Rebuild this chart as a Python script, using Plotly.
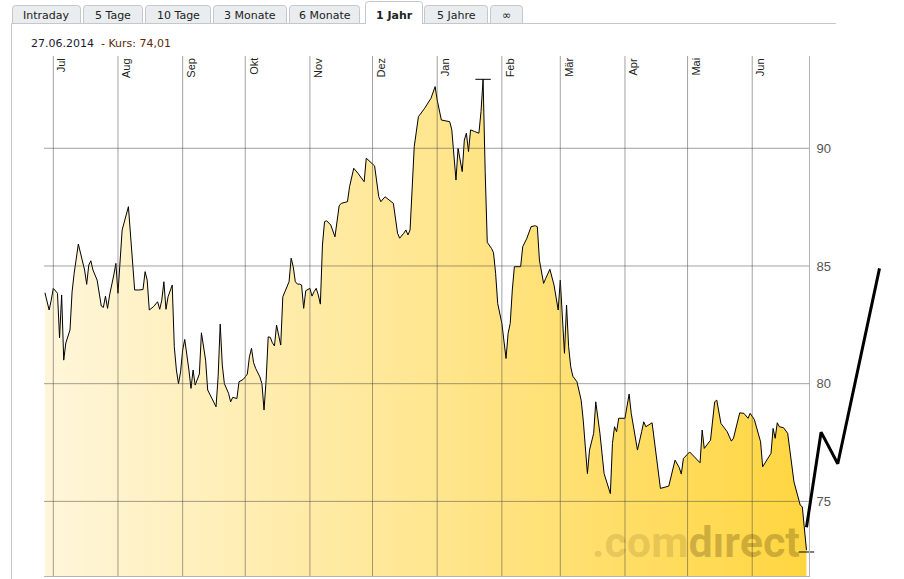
import plotly.graph_objects as go
import pandas as pd

W, H = 904, 579


def fx(p):
    return p / W


def fy(p):
    return 1 - p / H


# ---------------- data ----------------
dates = [
    "2013-06-27", "2013-06-29", "2013-06-30", "2013-07-01", "2013-07-03", "2013-07-04", "2013-07-05",
    "2013-07-06", "2013-07-07", "2013-07-09", "2013-07-10", "2013-07-11", "2013-07-13", "2013-07-15",
    "2013-07-16", "2013-07-17", "2013-07-18", "2013-07-19", "2013-07-20", "2013-07-22", "2013-07-24",
    "2013-07-25", "2013-07-26", "2013-07-27", "2013-07-28", "2013-07-30", "2013-07-31", "2013-08-01",
    "2013-08-02", "2013-08-03", "2013-08-06", "2013-08-07", "2013-08-08", "2013-08-09", "2013-08-11",
    "2013-08-13", "2013-08-14", "2013-08-15", "2013-08-16", "2013-08-18", "2013-08-20", "2013-08-21",
    "2013-08-22", "2013-08-23", "2013-08-24", "2013-08-25", "2013-08-27", "2013-08-28", "2013-08-29",
    "2013-08-30", "2013-08-31", "2013-09-01", "2013-09-02", "2013-09-03", "2013-09-04", "2013-09-05",
    "2013-09-06", "2013-09-07", "2013-09-08", "2013-09-09", "2013-09-10", "2013-09-12", "2013-09-13",
    "2013-09-17", "2013-09-18", "2013-09-19", "2013-09-20", "2013-09-21", "2013-09-23", "2013-09-24",
    "2013-09-25", "2013-09-27", "2013-09-28", "2013-09-30", "2013-10-01", "2013-10-02", "2013-10-03",
    "2013-10-04", "2013-10-05", "2013-10-06", "2013-10-08", "2013-10-09", "2013-10-10", "2013-10-11",
    "2013-10-12", "2013-10-13", "2013-10-14", "2013-10-15", "2013-10-16", "2013-10-17", "2013-10-18",
    "2013-10-19", "2013-10-20", "2013-10-21", "2013-10-22", "2013-10-23", "2013-10-24", "2013-10-25",
    "2013-10-26", "2013-10-27", "2013-10-28", "2013-10-29", "2013-10-30", "2013-11-01", "2013-11-02",
    "2013-11-03", "2013-11-04", "2013-11-05", "2013-11-06", "2013-11-07", "2013-11-08", "2013-11-09",
    "2013-11-11", "2013-11-13", "2013-11-15", "2013-11-16", "2013-11-19", "2013-11-20", "2013-11-22",
    "2013-11-24", "2013-11-27", "2013-11-28", "2013-11-30", "2013-12-02", "2013-12-04", "2013-12-05",
    "2013-12-07", "2013-12-09", "2013-12-11", "2013-12-13", "2013-12-14", "2013-12-16", "2013-12-17",
    "2013-12-18", "2013-12-19", "2013-12-21", "2013-12-23", "2013-12-26", "2013-12-29", "2013-12-31",
    "2014-01-01", "2014-01-03", "2014-01-05", "2014-01-07", "2014-01-08", "2014-01-09", "2014-01-10",
    "2014-01-11", "2014-01-12", "2014-01-13", "2014-01-14", "2014-01-15", "2014-01-16", "2014-01-17",
    "2014-01-19", "2014-01-21", "2014-01-22", "2014-01-23", "2014-01-24", "2014-01-25", "2014-01-27",
    "2014-01-28", "2014-01-29", "2014-01-30", "2014-02-01", "2014-02-02", "2014-02-03", "2014-02-04",
    "2014-02-05", "2014-02-06", "2014-02-07", "2014-02-10", "2014-02-11", "2014-02-13", "2014-02-15",
    "2014-02-17", "2014-02-18", "2014-02-19", "2014-02-21", "2014-02-22", "2014-02-24", "2014-02-26",
    "2014-02-28", "2014-03-01", "2014-03-02", "2014-03-03", "2014-03-04", "2014-03-05", "2014-03-06",
    "2014-03-07", "2014-03-09", "2014-03-10", "2014-03-11", "2014-03-12", "2014-03-14", "2014-03-15",
    "2014-03-17", "2014-03-18", "2014-03-20", "2014-03-22", "2014-03-25", "2014-03-26", "2014-03-27",
    "2014-03-28", "2014-03-29", "2014-04-01", "2014-04-03", "2014-04-04", "2014-04-07", "2014-04-09",
    "2014-04-10", "2014-04-11", "2014-04-14", "2014-04-18", "2014-04-22", "2014-04-25", "2014-04-27",
    "2014-04-28", "2014-04-29", "2014-05-02", "2014-05-05", "2014-05-07", "2014-05-08", "2014-05-09",
    "2014-05-12", "2014-05-14", "2014-05-15", "2014-05-17", "2014-05-20", "2014-05-22", "2014-05-23",
    "2014-05-26", "2014-05-28", "2014-05-30", "2014-05-31", "2014-06-02", "2014-06-05", "2014-06-06",
    "2014-06-10", "2014-06-11", "2014-06-12", "2014-06-13", "2014-06-14", "2014-06-16", "2014-06-18",
    "2014-06-21", "2014-06-24", "2014-06-25", "2014-06-27",
]

prices = [
    83.86, 83.13, 83.55, 84.05, 83.84, 81.94, 83.77,
    81.00, 81.73, 82.28, 83.90, 84.69, 85.93, 85.25,
    84.83, 84.22, 85.04, 85.22, 84.83, 84.40, 83.30,
    83.24, 83.72, 83.20, 83.77, 84.62, 85.11, 83.84,
    85.04, 86.53, 87.52, 86.30, 85.10, 83.98, 83.98,
    84.00, 84.76, 84.40, 83.13, 83.27, 83.48, 83.16,
    83.55, 84.33, 83.16, 83.69, 84.19, 81.57, 80.58,
    80.00, 80.50, 81.43, 81.88, 81.29, 80.58, 79.80,
    80.58, 79.94, 80.15, 80.41, 82.16, 81.00, 79.73,
    79.02, 80.29, 82.53, 80.79, 80.00, 79.59, 79.23,
    79.42, 79.37, 80.08, 80.18, 80.29, 80.41, 81.14,
    81.50, 80.89, 80.65, 80.29, 80.00, 78.88, 80.15,
    81.99, 81.97, 81.74, 81.60, 82.49, 81.99, 81.64,
    83.69, 83.90, 84.19, 84.33, 85.33, 84.97, 84.33,
    84.23, 84.23, 84.19, 83.20, 83.95, 84.05, 83.72,
    83.91, 84.05, 83.77, 83.38, 85.89, 86.88, 86.92,
    86.74, 86.24, 87.55, 87.66, 87.73, 88.37, 89.15,
    88.94, 88.58, 89.58, 89.43, 89.25, 87.94, 87.73,
    87.94, 87.80, 87.66, 86.39, 86.18, 86.39, 86.53,
    86.32, 86.53, 90.07, 91.34, 91.70, 92.12, 92.62,
    92.05, 91.20, 91.17, 91.13, 90.78, 89.64, 88.65,
    90.00, 89.58, 89.01, 90.35, 90.64, 89.86, 90.78,
    90.71, 90.64, 91.56, 92.93, 89.00, 86.00, 85.75,
    85.56, 84.69, 83.41, 82.56, 81.85, 81.07, 82.14,
    82.56, 83.98, 84.97, 84.97, 85.82, 86.18, 86.67,
    86.71, 86.67, 85.25, 84.26, 84.47, 84.86, 84.19,
    83.13, 84.40, 82.70, 81.29, 83.34, 81.57, 80.72,
    80.32, 80.08, 79.66, 79.30, 78.45, 76.18, 77.18,
    77.89, 79.23, 77.89, 76.18, 75.33, 77.46, 78.17,
    77.96, 78.53, 78.53, 79.56, 78.74, 77.18, 77.96,
    78.38, 78.17, 78.34, 75.55, 75.65, 76.75, 76.44,
    76.16, 76.82, 77.10, 76.82, 76.64, 78.03, 77.25,
    77.60, 79.23, 79.30, 78.31, 77.96, 77.56, 77.68,
    78.76, 78.74, 78.53, 78.74, 78.48, 77.53, 76.47,
    77.04, 78.10, 77.68, 78.34, 78.17, 78.13, 77.89,
    75.83, 74.84, 74.77, 72.93,
]

month_starts = ["2013-07-01", "2013-08-01", "2013-09-01", "2013-10-01", "2013-11-01", "2013-12-01",
                "2014-01-01", "2014-02-01", "2014-03-01", "2014-04-01", "2014-05-01", "2014-06-01"]
month_labels = ["Jul", "Aug", "Sep", "Okt", "Nov", "Dez", "Jan", "Feb", "Mär", "Apr", "Mai", "Jun"]
y_ticks = [75, 80, 85, 90]

extreme_dates = ["2014-01-23", "2014-06-27"]
extreme_values = [92.93, 72.85]

trend_dates = ["2014-06-27", "2014-07-04", "2014-07-12", "2014-08-01"]
trend_values = [73.9, 77.94, 76.6, 84.9]

tab_labels = ["Intraday", "5 Tage", "10 Tage", "3 Monate", "6 Monate", "1 Jahr", "5 Jahre", "∞"]
active_tab = "1 Jahr"
header_date = "27.06.2014"
header_price = "74,01"

# ---------------- layout geometry ----------------
PL, PR, PT, PB = 44, 809, 56, 576
x_start = pd.Timestamp("2013-06-26 13:00")
x_end = pd.Timestamp("2014-06-28 05:00")
X2R = 900
x2_end = x_start + (x_end - x_start) * ((X2R - PL) / (PR - PL))
y_range = [71.83, 93.92]

GRID = "rgba(70,70,70,0.5)"

fig = go.Figure()

fig.add_trace(go.Scatter(
    x=dates, y=prices, mode="lines",
    line=dict(color="black", width=1),
    fill="tozeroy",
    fillgradient=dict(type="horizontal",
                      colorscale=[[0, "#fff6da"], [0.5, "#ffe690"], [1, "#ffd640"]]),
    hoverinfo="skip", showlegend=False,
))

fig.add_trace(go.Scatter(
    x=extreme_dates, y=extreme_values, mode="markers",
    marker=dict(symbol="line-ew", size=11, line=dict(color="black", width=1)),
    cliponaxis=False, hoverinfo="skip", showlegend=False,
))

fig.add_trace(go.Scatter(
    x=trend_dates, y=trend_values, mode="lines",
    line=dict(color="black", width=3),
    xaxis="x2", yaxis="y2", hoverinfo="skip", showlegend=False,
))

shapes = []
# grid lines drawn above the area
for m in month_starts:
    shapes.append(dict(type="line", xref="x", yref="y domain", x0=m, x1=m, y0=0, y1=1,
                       line=dict(color=GRID, width=1), layer="above"))
for v in y_ticks:
    shapes.append(dict(type="line", xref="x domain", yref="y", x0=0, x1=1, y0=v, y1=v,
                       line=dict(color=GRID, width=1), layer="above"))

# panel frame
BORDER = "#c4c8cb"
shapes.append(dict(type="line", xref="paper", yref="paper", x0=fx(11.5), x1=fx(11.5),
                   y0=fy(23.5), y1=fy(579), line=dict(color=BORDER, width=1)))

tab_pos = [(12, 81), (83, 143), (145, 211), (213, 287), (289, 360), (365, 423), (424, 488), (490, 523)]
active_idx = tab_labels.index(active_tab)
a0, a1 = tab_pos[active_idx]
shapes.append(dict(type="line", xref="paper", yref="paper", x0=fx(11.5), x1=fx(a0),
                   y0=fy(23.5), y1=fy(23.5), line=dict(color=BORDER, width=1)))
shapes.append(dict(type="line", xref="paper", yref="paper", x0=fx(a1), x1=fx(836),
                   y0=fy(23.5), y1=fy(23.5), line=dict(color=BORDER, width=1)))


def tab_path(x0, x1, y0, y1, r=3, close=True):
    p = (f"M {fx(x0)},{fy(y1)} L {fx(x0)},{fy(y0 + r)} Q {fx(x0)},{fy(y0)} {fx(x0 + r)},{fy(y0)} "
         f"L {fx(x1 - r)},{fy(y0)} Q {fx(x1)},{fy(y0)} {fx(x1)},{fy(y0 + r)} L {fx(x1)},{fy(y1)}")
    if close:
        p += " Z"
    return p


annotations = []
for i, (lab, (t0, t1)) in enumerate(zip(tab_labels, tab_pos)):
    active = i == active_idx
    if active:
        shapes.append(dict(type="path", xref="paper", yref="paper",
                           path=tab_path(t0 + 0.5, t1 - 0.5, 1.5, 24, close=False),
                           fillcolor="white", line=dict(color=BORDER, width=1)))
    else:
        shapes.append(dict(type="path", xref="paper", yref="paper",
                           path=tab_path(t0 + 0.5, t1 - 0.5, 5.5, 23.5),
                           fillcolor="#e9edf0", line=dict(color=BORDER, width=1)))
    annotations.append(dict(
        xref="paper", yref="paper", x=fx((t0 + t1) / 2), y=fy(15.5),
        text=f"<b>{lab}</b>" if active else lab, showarrow=False,
        xanchor="center", yanchor="middle",
        font=dict(family="DejaVu Sans", size=11, color="#222222"),
    ))

annotations.append(dict(
    xref="paper", yref="paper", x=fx(29), y=fy(44), xanchor="left", yanchor="middle",
    showarrow=False,
    text=(f"<span style='color:#1b1b36'>{header_date}</span>\u00a0\u00a0"
          f"<span style='color:#5a2a08'>- Kurs: {header_price}</span>"),
    font=dict(family="DejaVu Sans", size=11),
))

for m, lab in zip(month_starts, month_labels):
    annotations.append(dict(
        xref="x", yref="y domain", x=m, y=1, xanchor="left", yanchor="top",
        xshift=1, yshift=-1, textangle=-90, showarrow=False, borderpad=0,
        text=lab, font=dict(family="Liberation Sans", size=11, color="#222222"),
    ))

# watermark (".com" lighter, "dırect" darker)
annotations.append(dict(
    xref="paper", yref="paper", x=fx(590), y=fy(542), xanchor="left", yanchor="middle",
    showarrow=False,
    text="<b><span style='color:rgba(60,40,0,0.6)'>.com</span>dırect</b>",
    font=dict(family="Roboto", size=43, color="rgba(60,40,0,0.25)"),
))

fig.update_layout(
    width=W, height=H,
    margin=dict(l=0, r=0, t=0, b=0),
    paper_bgcolor="white", plot_bgcolor="rgba(0,0,0,0)",
    shapes=shapes, annotations=annotations, showlegend=False,
    xaxis=dict(domain=[fx(PL), fx(PR)], type="date", range=[x_start, x_end],
               showgrid=False, zeroline=False, showticklabels=False, ticks="",
               showline=True, linecolor="#b3b3b3", linewidth=1, fixedrange=True),
    yaxis=dict(domain=[fy(PB), fy(PT)], range=y_range, side="right",
               tickvals=y_ticks, showgrid=False, zeroline=False, ticks="",
               showline=True, linecolor="#b3b3b3", linewidth=1,
               tickfont=dict(family="Liberation Sans", size=13, color="#555555"),
               ticklabelstandoff=4, fixedrange=True),
    xaxis2=dict(domain=[fx(PL), fx(X2R)], type="date", range=[x_start, x2_end], anchor="y2",
                visible=False, fixedrange=True),
    yaxis2=dict(domain=[fy(PB), fy(PT)], range=y_range, anchor="x2", visible=False, fixedrange=True),
)

fig.write_html("out.html", config={"displayModeBar": False},
               post_script="document.body.style.margin='0px';document.body.style.overflow='hidden';")
